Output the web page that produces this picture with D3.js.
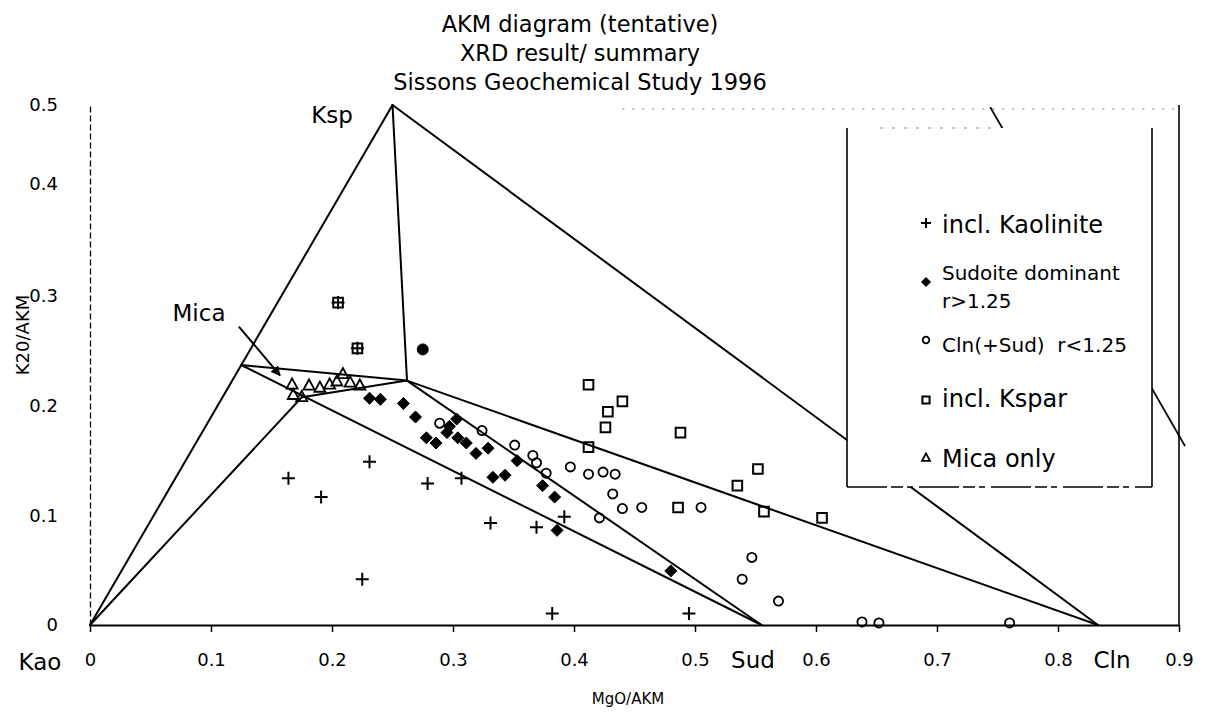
<!DOCTYPE html>
<html>
<head>
<meta charset="utf-8">
<script src="https://cdn.jsdelivr.net/npm/d3@7"></script>
<style>
  html, body { margin: 0; padding: 0; background: #fff; }
  svg { display: block; font-family: "DejaVu Sans", sans-serif; }
  text { fill: #000; }
</style>
</head>
<body>
<svg id="chart" width="1209" height="715"></svg>
<script>
// ---------- data ----------
const titleLines = ["AKM diagram (tentative)", "XRD result/ summary", "Sissons Geochemical Study 1996"];
const xTicks = [0, 0.1, 0.2, 0.3, 0.4, 0.5, 0.6, 0.7, 0.8, 0.9];
const yTicks = [0, 0.1, 0.2, 0.3, 0.4, 0.5];
const xLabel = "MgO/AKM";
const yLabel = "K20/AKM";

// mineral end-members / tie points  [x, y]
const Kao = [0, 0];
const Ksp = [0.25, 0.5];
const Mica = [0.125, 0.25];
const Sud = [0.555, 0];
const Cln = [0.833, 0];
const P = [0.262, 0.235];
const Q = [0.175, 0.219];
const tieLines = [[Kao, Ksp], [Ksp, Cln], [Ksp, P], [Mica, P], [Mica, Sud], [Kao, Q], [Q, P], [P, Sud], [P, Cln]];
const strayLine = [[0.744, 0.498], [0.905, 0.172]];
const micaArrow = [[0.123, 0.287], [0.157, 0.240]];

// series
const kaolinite = [[0.164,0.141],[0.191,0.123],[0.231,0.157],[0.279,0.136],[0.307,0.141],[0.225,0.044],
  [0.331,0.098],[0.369,0.094],[0.392,0.104],[0.382,0.011],[0.495,0.011],[0.205,0.310],[0.221,0.266]];
const sudoite = [[0.231,0.218],[0.240,0.217],[0.259,0.213],[0.269,0.200],[0.278,0.180],[0.286,0.175],
  [0.295,0.185],[0.297,0.191],[0.303,0.198],[0.304,0.180],[0.311,0.175],[0.319,0.165],[0.329,0.170],
  [0.353,0.158],[0.333,0.142],[0.343,0.144],[0.374,0.134],[0.384,0.123],[0.386,0.091],[0.480,0.052]];
const clinochlore = [[0.289,0.194],[0.324,0.187],[0.351,0.173],[0.366,0.163],[0.369,0.156],[0.377,0.146],
  [0.397,0.152],[0.412,0.145],[0.424,0.147],[0.434,0.145],[0.432,0.126],[0.440,0.112],[0.456,0.113],
  [0.421,0.103],[0.505,0.113],[0.547,0.065],[0.539,0.044],[0.569,0.023],[0.638,0.003],[0.652,0.002],[0.760,0.002]];
const kspar = [[0.205,0.310],[0.221,0.266],[0.412,0.231],[0.440,0.215],[0.428,0.205],[0.426,0.190],
  [0.412,0.171],[0.488,0.185],[0.486,0.113],[0.535,0.134],[0.557,0.109],[0.605,0.103],[0.552,0.150]];
const micaOnly = [[0.167,0.231],[0.181,0.230],[0.190,0.228],[0.198,0.231],[0.204,0.234],[0.209,0.241],
  [0.215,0.233],[0.223,0.230],[0.168,0.221],[0.175,0.219]];
const otherPoints = [[0.275,0.265]];

const legendItems = [
  {type: "plus", lines: ["incl. Kaolinite"]},
  {type: "diamond", lines: ["Sudoite dominant", "r>1.25"]},
  {type: "circle", lines: ["Cln(+Sud)  r<1.25"]},
  {type: "square", lines: ["incl. Kspar"]},
  {type: "triangle", lines: ["Mica only"]}
];

// ---------- setup ----------
const svg = d3.select("#chart");
const x = d3.scaleLinear().domain([0, 0.9]).range([90, 1179]);
const y = d3.scaleLinear().domain([0, 0.5]).range([625, 105]);
// the printed (scanned) y-axis labels are not evenly spaced
const yAxisScale = d3.scaleLinear().domain(yTicks).range([625, 516, 406, 296, 184, 105]);

function shape(type, s) {
  switch (type) {
    case "plus": return `M${-s},0H${s}M0,${-s}V${s}`;
    case "diamond": return `M0,${-s}L${s},0L0,${s}L${-s},0Z`;
    case "square": return `M${-s},${-s}H${s}V${s}H${-s}Z`;
    case "triangle": return `M0,${-s*1.15}L${s},${s*0.7}L${-s},${s*0.7}Z`;
    case "circle": return d3.symbol(d3.symbolCircle, Math.PI * s * s)();
  }
}
const markStyle = {
  plus: {fill: "none", stroke: "#000", sw: 2},
  diamond: {fill: "#000", stroke: "#000", sw: 1},
  circle: {fill: "none", stroke: "#000", sw: 1.8},
  square: {fill: "none", stroke: "#000", sw: 2},
  triangle: {fill: "none", stroke: "#000", sw: 1.8},
  dot: {fill: "#000", stroke: "#000", sw: 1}
};

// ---------- frame ----------
svg.append("line").attr("x1", x(0.44)).attr("x2", x(0.9)).attr("y1", y(0.5) + 4).attr("y2", y(0.5) + 4)
  .attr("stroke", "#777").attr("stroke-width", 1).attr("stroke-dasharray", "2,8");
svg.append("line").attr("x1", x(0.9)).attr("x2", x(0.9)).attr("y1", y(0.5)).attr("y2", y(0))
  .attr("stroke", "#000").attr("stroke-width", 1.6);

// ---------- axes ----------
const fmt = d => d === 0 ? "0" : d.toFixed(1);
const gx = svg.append("g").attr("transform", `translate(0,${y(0)})`)
  .call(d3.axisBottom(x).tickValues(xTicks).tickFormat(fmt).tickSize(7).tickSizeOuter(0).tickPadding(21));
gx.select(".domain").attr("stroke", "#000").attr("stroke-width", 2.2);
gx.selectAll(".tick line").attr("stroke", "#000").attr("stroke-width", 1.5);
gx.selectAll(".tick text").attr("font-size", 18).attr("font-family", "DejaVu Sans");

const gy = svg.append("g").attr("transform", `translate(${x(0)},0)`)
  .call(d3.axisLeft(yAxisScale).tickValues(yTicks).tickFormat(fmt).tickSize(0).tickSizeOuter(0).tickPadding(32));
gy.select(".domain").attr("stroke", "#000").attr("stroke-width", 1.3).attr("stroke-dasharray", "6,3");
gy.selectAll(".tick text").attr("font-size", 18).attr("font-family", "DejaVu Sans");

svg.append("text").attr("x", 628).attr("y", 704).attr("text-anchor", "middle")
  .attr("font-size", 15).text(xLabel);
svg.append("text").attr("transform", "translate(29,335) rotate(-90)").attr("text-anchor", "middle")
  .attr("font-size", 18).text(yLabel);

// ---------- title ----------
svg.append("g").selectAll("text").data(titleLines).join("text")
  .attr("x", 580).attr("y", (d, i) => 32 + i * 29).attr("text-anchor", "middle")
  .attr("font-size", 22.5).text(d => d);

// ---------- tie lines ----------
svg.append("g").selectAll("line").data(tieLines).join("line")
  .attr("x1", d => x(d[0][0])).attr("y1", d => y(d[0][1]))
  .attr("x2", d => x(d[1][0])).attr("y2", d => y(d[1][1]))
  .attr("stroke", "#000").attr("stroke-width", 2).attr("stroke-linecap", "round");
svg.append("line")
  .attr("x1", x(strayLine[0][0])).attr("y1", y(strayLine[0][1]))
  .attr("x2", x(strayLine[1][0])).attr("y2", y(strayLine[1][1]))
  .attr("stroke", "#000").attr("stroke-width", 1.8);

// mineral labels
const minLabels = [
  {t: "Ksp", px: 332, py: 123},
  {t: "Mica", px: 199, py: 321},
  {t: "Kao", px: 40, py: 670},
  {t: "Sud", px: 753, py: 668},
  {t: "Cln", px: 1112, py: 668}
];
svg.append("g").selectAll("text").data(minLabels).join("text")
  .attr("x", d => d.px).attr("y", d => d.py).attr("text-anchor", "middle")
  .attr("font-size", 23).text(d => d.t);

// arrow
svg.append("defs").append("marker").attr("id", "ah").attr("viewBox", "0 0 10 10")
  .attr("refX", 9).attr("refY", 5).attr("markerWidth", 5).attr("markerHeight", 5).attr("orient", "auto")
  .append("path").attr("d", "M0,0L10,5L0,10Z").attr("fill", "#000");
svg.append("line")
  .attr("x1", x(micaArrow[0][0])).attr("y1", y(micaArrow[0][1]))
  .attr("x2", x(micaArrow[1][0])).attr("y2", y(micaArrow[1][1]))
  .attr("stroke", "#000").attr("stroke-width", 2).attr("marker-end", "url(#ah)");

// ---------- points ----------
function drawSeries(data, type, size) {
  const st = markStyle[type] || markStyle.dot;
  const shp = type === "dot" ? "circle" : type;
  svg.append("g").selectAll("path").data(data).join("path")
    .attr("transform", d => `translate(${x(d[0])},${y(d[1])})`)
    .attr("d", shape(shp, size))
    .attr("fill", st.fill).attr("stroke", st.stroke).attr("stroke-width", st.sw);
}
drawSeries(micaOnly, "triangle", 5.5);
drawSeries(kspar, "square", 4.8);
drawSeries(clinochlore, "circle", 4.6);
drawSeries(sudoite, "diamond", 6);
drawSeries(kaolinite, "plus", 6.5);
drawSeries(otherPoints, "dot", 5.5);

// ---------- legend ----------
const lg = svg.append("g");
lg.append("rect").attr("x", 847).attr("y", 128).attr("width", 305).attr("height", 359)
  .attr("fill", "#fff").attr("stroke", "none");
lg.append("line").attr("x1", 847).attr("x2", 847).attr("y1", 128).attr("y2", 487).attr("stroke", "#000").attr("stroke-width", 1.6);
lg.append("line").attr("x1", 1152).attr("x2", 1152).attr("y1", 128).attr("y2", 487).attr("stroke", "#000").attr("stroke-width", 1.6);
lg.append("line").attr("x1", 847).attr("x2", 1152).attr("y1", 487).attr("y2", 487).attr("stroke", "#000").attr("stroke-width", 1.6).attr("stroke-dasharray", "40,4,12,4,6,6");
lg.append("line").attr("x1", 880).attr("x2", 1000).attr("y1", 128).attr("y2", 128).attr("stroke", "#888").attr("stroke-width", 1).attr("stroke-dasharray", "3,9");

const legendMarkY = [223, 282, 340, 400, 458];
const legendTextY = [[233], [280, 308], [352], [407], [467]];
const legendFont = [24, 20, 20, 24, 24];
const legendMarkSize = {plus: 5, diamond: 4.5, circle: 3.3, square: 3.6, triangle: 4};
legendItems.forEach((it, i) => {
  const st = markStyle[it.type];
  lg.append("path").attr("transform", `translate(926,${legendMarkY[i]})`)
    .attr("d", shape(it.type, legendMarkSize[it.type]))
    .attr("fill", st.fill).attr("stroke", st.stroke).attr("stroke-width", st.sw);
  it.lines.forEach((t, j) => {
    lg.append("text").attr("x", 942).attr("y", legendTextY[i][j])
      .attr("font-size", legendFont[i]).style("white-space", "pre").text(t);
  });
});
</script>
</body>
</html>
